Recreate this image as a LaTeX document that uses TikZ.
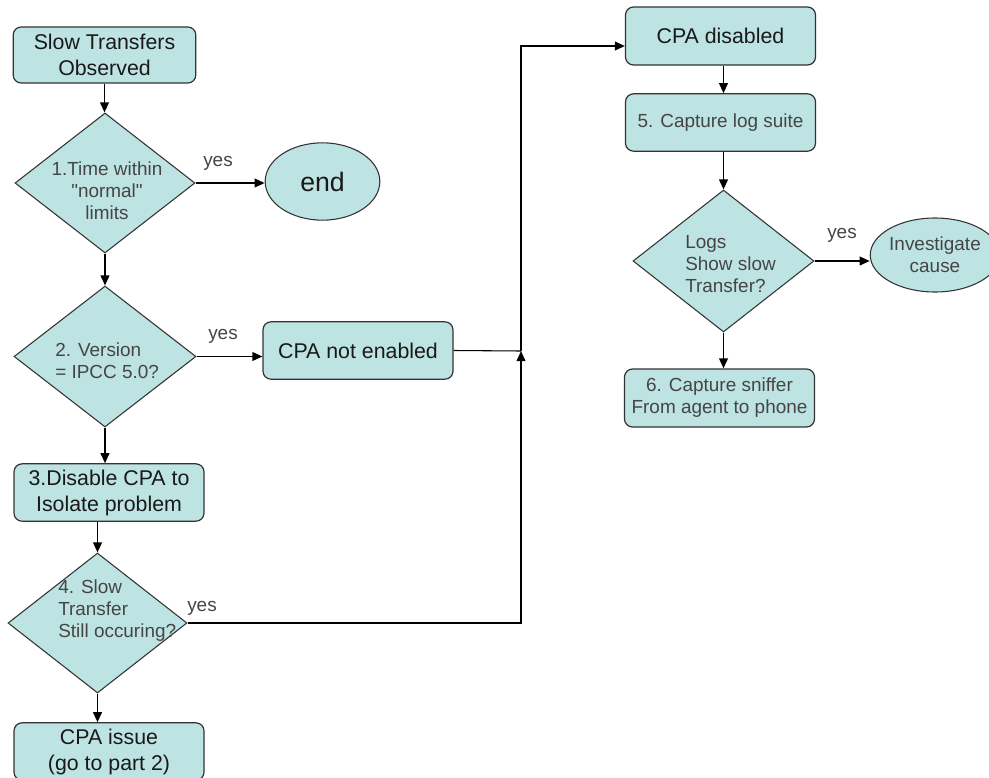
\documentclass[tikz,border=0pt]{standalone}
\usepackage{fontspec}
\setmainfont{Liberation Sans}
\newfontfamily\plainquotes{Liberation Sans}[Ligatures=TeXOff]
\usetikzlibrary{shapes.geometric,arrows.meta,calc}
\definecolor{boxfill}{HTML}{BEE3E3}
\definecolor{edgegray}{HTML}{333333}
\definecolor{txtgray}{HTML}{454545}
\begin{document}
\begin{tikzpicture}[x=0.75pt,y=-0.75pt,
  darktxt/.style={font=\fontsize{16}{19.5}\selectfont, text=black!90},
  greytxt/.style={font=\fontsize{14.2}{16.5}\selectfont, text=txtgray},
  rbox/.style={draw=edgegray, line width=0.9pt, fill=boxfill, rounded corners=6pt,
    minimum width=142.5pt, minimum height=43pt, align=center, inner sep=0pt},
  dia/.style={diamond, draw=edgegray, line width=0.8pt, fill=boxfill, inner sep=0pt},
  oval/.style={ellipse, draw=edgegray, line width=0.8pt, fill=boxfill, inner sep=0pt, align=center},
  arr/.style={-{Triangle[length=7.5pt,width=6.5pt]}, line width=1.3pt},
  plain/.style={line width=0.8pt},
  yeslbl/.style={greytxt, inner sep=0pt}]
\useasboundingbox (0,0) rectangle (989,778);

% left column
\node[rbox,darktxt,minimum width=137pt,minimum height=42pt] (start) at (104.5,55) {Slow Transfers\\Observed};
\node[dia,minimum width=135pt,minimum height=105pt] (d1) at (105,183) {};
\node[greytxt,align=center,inner sep=0pt] (d1t) at (107,191) {1.Time within\\{\plainquotes"}normal{\plainquotes"}\\limits};
\node[oval,minimum width=86pt,minimum height=58pt,font=\fontsize{20}{24}\selectfont,text=black!90] (end) at (322.5,181.5) {end};

\node[dia,minimum width=136.5pt,minimum height=105.75pt] (d2) at (105,356.5) {};
\node[greytxt,align=left,anchor=west,inner sep=0pt] (d2t) at (55,361) {2. Version\\= IPCC 5.0?};
\node[rbox,darktxt] (nen) at (358,350.5) {CPA not enabled};

\node[rbox,darktxt] (box3) at (109,492.5) {3.Disable CPA to\\Isolate problem};
\node[dia,minimum width=134.25pt,minimum height=105pt] (d4) at (97.5,623) {};
\node[greytxt,align=left,anchor=west,inner sep=0pt] (d4t) at (58,610.5) {4. Slow\\Transfer\\Still occuring?};
\node[rbox,darktxt] (issue) at (109,751.5) {CPA issue\\(go to part 2)};

% right column
\node[rbox,darktxt,minimum height=43.5pt] (disabled) at (720.5,36) {CPA disabled};
\node[rbox,greytxt] (box5) at (720.5,122.5) {5. Capture log suite};
\node[dia,minimum width=135.75pt,minimum height=106.5pt] (dL) at (723.5,261) {};
\node[greytxt,align=left,anchor=west,inner sep=0pt] (dLt) at (685,264.5) {Logs\\Show slow\\Transfer?};
\node[oval,greytxt,minimum width=79.5pt,minimum height=55.5pt] (inv) at (935,255) {Investigate\\cause};
\node[rbox,greytxt,minimum height=43.5pt] (box6) at (719.5,398) {6. Capture sniffer\\From agent to phone};

% yes labels
\node[yeslbl] (y1) at (218,163) {yes};
\node[yeslbl] (y2) at (223,336) {yes};
\node[yeslbl] (y4) at (202,608) {yes};
\node[yeslbl] (yL) at (842,235) {yes};

% junctions
\coordinate (j) at (521,351);
\coordinate (jt) at (521,46);

% connectors
\draw[arr] (start.south) -- (start.south |- d1.north);
\draw[arr] (d1.east) -- (d1.east -| end.west);
\draw[arr] (d1.south) -- (d2.north);
\draw[arr] (d2.east) -- (d2.east -| nen.west);
\draw[arr] (d2.south) -- (d2.south |- box3.north);
\draw[arr] (d4.north |- box3.south) -- (d4.north);
\draw[arr] (d4.south) -- (d4.south |- issue.north);
\draw[arr] (d4.east) -| (j);
\draw[plain] (nen.east) -- (j);
\draw[arr] (j) -- (jt) -- (jt -| disabled.west);
\draw[arr] (disabled.south -| dL.north) -- (box5.north -| dL.north);
\draw[arr] (box5.south -| dL.north) -- (dL.north);
\draw[arr] (dL.east) -- (dL.east -| inv.west);
\draw[arr] (dL.south) -- (dL.south |- box6.north);
\end{tikzpicture}
\end{document}
